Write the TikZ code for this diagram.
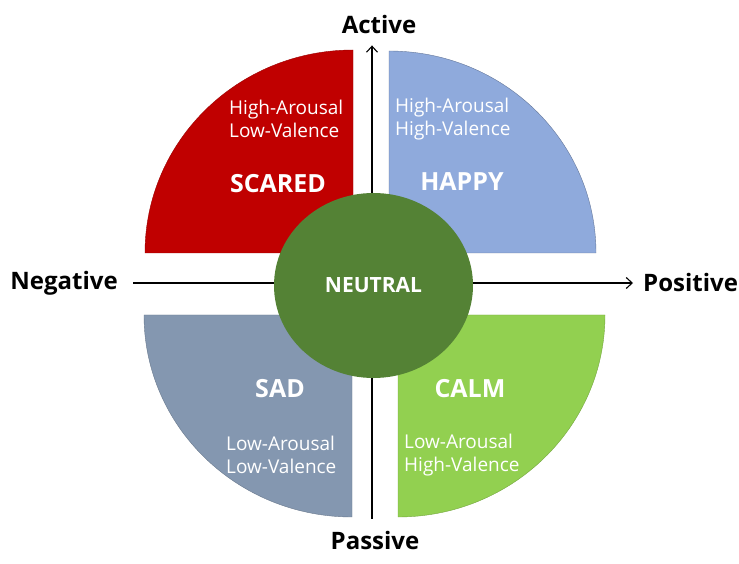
\documentclass[tikz,border=0pt]{standalone}
\usepackage{fontspec}
\setmainfont{Open Sans}
\usetikzlibrary{shapes.geometric,arrows.meta}

\definecolor{rosso}{HTML}{C00000}
\definecolor{azzurro}{HTML}{8FAADC}
\definecolor{grigioblu}{HTML}{8497B0}
\definecolor{verdechiaro}{HTML}{92D050}
\definecolor{verdescuro}{HTML}{548235}

\tikzset{
    asse/.style={font=\fontsize{24}{26}\selectfont\bfseries, inner sep=0pt},
    freccia/.style={draw=black, line width=1.1pt, -{Straight Barb[length=6pt,width=11pt]}},
    emozione/.style={font=\fontsize{25}{28}\selectfont\bfseries, text=white, inner sep=0pt},
    dettaglio/.style={font=\fontsize{19}{23}\selectfont, text=white, align=left, anchor=west, inner sep=0pt}
}

\begin{document}
\begin{tikzpicture}[x=1pt,y=1pt]
    \useasboundingbox (0,0) rectangle (739,563);

    % Quadranti colorati
    \filldraw[fill=rosso, draw=rosso!80!black, thin] (353,310) -- (353,513) arc[start angle=90, end angle=180, x radius=208, y radius=203] -- cycle;
    \filldraw[fill=azzurro, draw=azzurro!70!black, thin] (389,310) -- (389,512) arc[start angle=90, end angle=0, x radius=207, y radius=202] -- cycle;
    \filldraw[fill=grigioblu, draw=grigioblu!80!black, thin] (352,248) -- (144,248) arc[start angle=180, end angle=270, x radius=208, y radius=202] -- cycle;
    \filldraw[fill=verdechiaro, draw=verdechiaro!80!black, thin] (398,248) -- (398,46) arc[start angle=270, end angle=360, x radius=207, y radius=202] -- cycle;

    % Etichette degli assi
    \node[asse] (act) at (379,538) {Active};
    \node[asse] (pas) at (375,23) {Passive};
    \node[asse, anchor=east] (neg) at (118,280) {Negative};
    \node[asse, anchor=west] (pos) at (643,280) {Positive};

    % Assi con le frecce
    \draw[freccia, shorten <=15pt, shorten >=10pt] (neg.east) -- (pos.west);
    \draw[freccia, shorten <=12pt, shorten >=11pt] (pas.north -| 372,0) -- (act.south -| 372,0);

    % Cerchio centrale
    \node[ellipse, fill=verdescuro, minimum width=199pt, minimum height=185pt, inner sep=0pt,
          text=white, font=\fontsize{21}{24}\selectfont\bfseries] (neu) at (373.5,277.5) {NEUTRAL};

    % Nomi dei quadranti
    \node[emozione] (scared) at (278,379) {SCARED};
    \node[emozione] (happy) at (462,381) {HAPPY};
    \node[emozione] (sad) at (280,174) {SAD};
    \node[emozione] (calm) at (470,174) {CALM};

    % Arousal e valence
    \node[dettaglio] (hl) at (229,444) {High-Arousal\\Low-Valence};
    \node[dettaglio] (hh) at (395,444) {High-Arousal\\High-Valence};
    \node[dettaglio] (ll) at (226,108) {Low-Arousal\\Low-Valence};
    \node[dettaglio] (lh) at (404,108) {Low-Arousal\\High-Valence};
\end{tikzpicture}
\end{document}
